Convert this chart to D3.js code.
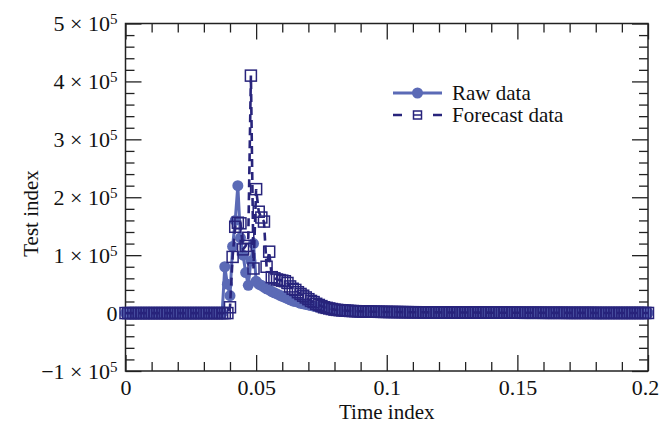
<!DOCTYPE html>
<html>
<head>
<meta charset="utf-8">
<script src="https://cdn.jsdelivr.net/npm/d3@7"></script>
<style>
  body { margin: 0; background: #fff; }
  svg { display: block; font-family: 'Liberation Serif', 'DejaVu Serif', serif; }
</style>
</head>
<body>
<div id="chart"></div>
<script>
// values in units of 1e5, one sample every 0.001 time units
const timeStep = 0.001;

const rawData = [
    0, 0, 0, 0, 0, 0, 0, 0, 0, 0, 0, 0, 0, 0, 0, 0, 0, 0, 0, 0,
    0, 0, 0, 0, 0, 0, 0, 0, 0, 0, 0, 0, 0, 0, 0, 0, 0, 0, 0.8, 0.5,
    0.3, 1.15, 1.6, 2.2, 1.3, 1.0, 0.7, 0.48, 0.9, 1.2, 0.55, 0.5, 0.48, 0.45, 0.42, 0.4, 0.37, 0.35, 0.33, 0.31,
    0.29, 0.27, 0.25, 0.23, 0.21, 0.2, 0.19, 0.17, 0.16, 0.15, 0.14, 0.13, 0.12, 0.11, 0.1, 0.095, 0.09, 0.085, 0.08, 0.075,
    0.07, 0.066, 0.062, 0.058, 0.055, 0.052, 0.05, 0.048, 0.046, 0.044, 0.042, 0.04, 0.038, 0.036, 0.035, 0.034, 0.033, 0.032, 0.031, 0.03,
    0.029, 0.027, 0.027, 0.026, 0.026, 0.025, 0.025, 0.024, 0.024, 0.023, 0.023, 0.022, 0.022, 0.021, 0.021, 0.02, 0.02, 0.02, 0.019, 0.019,
    0.018, 0.018, 0.018, 0.017, 0.017, 0.017, 0.016, 0.016, 0.016, 0.015, 0.015, 0.015, 0.014, 0.014, 0.014, 0.013, 0.013, 0.013, 0.012, 0.012,
    0.012, 0.012, 0.011, 0.011, 0.011, 0.011, 0.01, 0.01, 0.01, 0.01, 0.01, 0.009, 0.009, 0.009, 0.009, 0.009, 0.008, 0.008, 0.008, 0.008,
    0.008, 0.008, 0.007, 0.007, 0.007, 0.007, 0.007, 0.007, 0.006, 0.006, 0.006, 0.006, 0.006, 0.006, 0.006, 0.005, 0.005, 0.005, 0.005, 0.005,
    0.005, 0.005, 0.005, 0.004, 0.004, 0.004, 0.004, 0.004, 0.004, 0.004, 0.004, 0.004, 0.004, 0.004, 0.003, 0.003, 0.003, 0.003, 0.003, 0.003,
    0.003
];

const forecastData = [
    0, 0, 0, 0, 0, 0, 0, 0, 0, 0, 0, 0, 0, 0, 0, 0, 0, 0, 0, 0,
    0, 0, 0, 0, 0, 0, 0, 0, 0, 0, 0, 0, 0, 0, 0, 0, 0, 0, 0, 0,
    0.1, 0.97, 1.49, 1.56, 1.55, 1.1, 1.16, 1.3, 4.1, 0.77, 2.14, 1.75, 1.65, 1.58, 0.8, 1.06, 0.62, 0.6, 0.58, 0.57,
    0.56, 0.55, 0.52, 0.46, 0.42, 0.4, 0.36, 0.33, 0.3, 0.27, 0.24, 0.21, 0.19, 0.16, 0.14, 0.12, 0.1, 0.09, 0.08, 0.07,
    0.06, 0.055, 0.05, 0.046, 0.043, 0.04, 0.037, 0.035, 0.033, 0.031, 0.03, 0.028, 0.027, 0.026, 0.025, 0.024, 0.023, 0.022, 0.021, 0.02,
    0.02, 0.019, 0.019, 0.018, 0.018, 0.017, 0.017, 0.016, 0.016, 0.015, 0.015, 0.015, 0.014, 0.014, 0.014, 0.013, 0.013, 0.013, 0.012, 0.012,
    0.012, 0.011, 0.011, 0.011, 0.011, 0.01, 0.01, 0.01, 0.01, 0.01, 0.009, 0.009, 0.009, 0.009, 0.009, 0.008, 0.008, 0.008, 0.008, 0.008,
    0.007, 0.007, 0.007, 0.007, 0.007, 0.007, 0.006, 0.006, 0.006, 0.006, 0.006, 0.006, 0.005, 0.005, 0.005, 0.005, 0.005, 0.005, 0.005, 0.005,
    0.004, 0.004, 0.004, 0.004, 0.004, 0.004, 0.004, 0.004, 0.004, 0.003, 0.003, 0.003, 0.003, 0.003, 0.003, 0.003, 0.003, 0.003, 0.003, 0.003,
    0.002, 0.002, 0.002, 0.002, 0.002, 0.002, 0.002, 0.002, 0.002, 0.002, 0.002, 0.002, 0.002, 0.002, 0.002, 0.002, 0.002, 0.002, 0.002, 0.002,
    0.002
];

const xTicks = [0, 0.05, 0.1, 0.15, 0.2];
const xMinorTicks = [0.01, 0.02, 0.03, 0.04, 0.06, 0.07, 0.08, 0.09, 0.11, 0.12, 0.13, 0.14, 0.16, 0.17, 0.18, 0.19];
const yTicks = [-1, 0, 1, 2, 3, 4, 5];
const yMinorTicks = [-0.8, -0.6, -0.4, -0.2, 0.2, 0.4, 0.6, 0.8, 1.2, 1.4, 1.6, 1.8, 2.2, 2.4, 2.6, 2.8,
    3.2, 3.4, 3.6, 3.8, 4.2, 4.4, 4.6, 4.8];
const seriesNames = ['Raw data', 'Forecast data'];

const rawColor = '#5b6ab6';
const forecastColor = '#28247c';
const serif = "'Liberation Serif', 'DejaVu Serif', serif";

const margin = { top: 23.5, right: 12, bottom: 61, left: 125.5 };
const totalWidth = 660, totalHeight = 432;
const width = totalWidth - margin.left - margin.right;
const height = totalHeight - margin.top - margin.bottom;

const svg = d3.select('#chart').append('svg')
    .attr('width', totalWidth)
    .attr('height', totalHeight);

svg.append('rect').attr('width', totalWidth).attr('height', totalHeight).attr('fill', '#fff');

const g = svg.append('g')
    .attr('transform', `translate(${margin.left},${margin.top})`);

const xScale = d3.scaleLinear().domain([0, 0.2]).range([0, width]);
const yScale = d3.scaleLinear().domain([-1, 5]).range([height, 0]);

const toPoints = arr => arr.map((v, i) => ({ t: i * timeStep, v }));
const rawPoints = toPoints(rawData);
const forecastPoints = toPoints(forecastData);

// axes: ticks point inwards on all four sides
function drawAxes() {
    const major = 16, minor = 9;

    const bottom = g.append('g').attr('transform', `translate(0,${height})`);
    bottom.call(d3.axisBottom(xScale).tickValues(xTicks).tickSize(-major).tickPadding(8)
        .tickFormat(d => d3.format('')(+d.toFixed(2))));
    bottom.append('g').call(d3.axisBottom(xScale).tickValues(xMinorTicks).tickSize(-minor).tickFormat(''));

    const top = g.append('g');
    top.call(d3.axisTop(xScale).tickValues(xTicks).tickSize(-major).tickFormat(''));
    top.append('g').call(d3.axisTop(xScale).tickValues(xMinorTicks).tickSize(-minor).tickFormat(''));

    const left = g.append('g');
    left.call(d3.axisLeft(yScale).tickValues(yTicks).tickSize(-major).tickFormat(''));
    left.append('g').call(d3.axisLeft(yScale).tickValues(yMinorTicks).tickSize(-minor).tickFormat(''));

    const right = g.append('g').attr('transform', `translate(${width},0)`);
    right.call(d3.axisRight(yScale).tickValues(yTicks).tickSize(-major).tickFormat(''));
    right.append('g').call(d3.axisRight(yScale).tickValues(yMinorTicks).tickSize(-minor).tickFormat(''));

    g.selectAll('.domain').remove();
    g.selectAll('.tick line').attr('stroke', '#222').attr('stroke-width', 1.3);
    bottom.selectAll('.tick text')
        .style('font-family', serif)
        .style('font-size', '22px')
        .attr('fill', '#111')
        .attr('dx', d => d === 0.2 ? -3 : 0); // keep the last label inside the page

    // y labels like "2 × 10^5"
    yTicks.forEach(v => {
        const label = g.append('text')
            .attr('x', -8)
            .attr('y', yScale(v))
            .attr('dy', '0.35em')
            .attr('text-anchor', 'end')
            .style('font-family', serif)
            .style('font-size', '22px')
            .attr('fill', '#111');
        if (v === 0) {
            label.text('0');
        } else {
            label.append('tspan').text(`${v < 0 ? '\u2212' : ''}${Math.abs(v)} \u00d7 10`);
            label.append('tspan').attr('dy', '-0.45em').style('font-size', '15px').text('5');
        }
    });

    g.append('rect')
        .attr('width', width)
        .attr('height', height)
        .attr('fill', 'none')
        .attr('stroke', '#222')
        .attr('stroke-width', 1.5);

    g.append('text')
        .attr('x', width / 2)
        .attr('y', height + 48)
        .attr('text-anchor', 'middle')
        .style('font-family', serif)
        .style('font-size', '21px')
        .attr('fill', '#111')
        .text('Time index');

    g.append('text')
        .attr('transform', 'rotate(-90)')
        .attr('x', -yScale(1.72))
        .attr('y', -88)
        .attr('text-anchor', 'middle')
        .style('font-family', serif)
        .style('font-size', '21px')
        .attr('fill', '#111')
        .text('Test index');
}

function drawSeries() {
    const line = d3.line()
        .x(d => xScale(d.t))
        .y(d => yScale(d.v));

    const plot = g.append('g');

    plot.append('path')
        .datum(rawPoints)
        .attr('fill', 'none')
        .attr('stroke', rawColor)
        .attr('stroke-width', 3)
        .attr('d', line);

    plot.selectAll('circle.raw')
        .data(rawPoints)
        .enter().append('circle')
        .attr('class', 'raw')
        .attr('cx', d => xScale(d.t))
        .attr('cy', d => yScale(d.v))
        .attr('r', 5.5)
        .attr('fill', rawColor);

    plot.append('path')
        .datum(forecastPoints)
        .attr('fill', 'none')
        .attr('stroke', forecastColor)
        .attr('stroke-width', 2.6)
        .attr('stroke-dasharray', '8,5')
        .attr('d', line);

    plot.selectAll('rect.fc')
        .data(forecastPoints)
        .enter().append('rect')
        .attr('class', 'fc')
        .attr('x', d => xScale(d.t) - 5.5)
        .attr('y', d => yScale(d.v) - 5.5)
        .attr('width', 11)
        .attr('height', 11)
        .attr('fill', 'none')
        .attr('stroke', forecastColor)
        .attr('stroke-width', 1.5);
}

function drawLegend() {
    const legend = g.append('g')
        .attr('transform', `translate(${393 - margin.left}, ${93 - margin.top})`);

    const row1 = legend.append('g');
    row1.append('line').attr('x1', 0).attr('x2', 49).attr('y1', 0).attr('y2', 0)
        .attr('stroke', rawColor).attr('stroke-width', 3);
    row1.append('circle').attr('cx', 24.5).attr('cy', 0).attr('r', 5.5).attr('fill', rawColor);
    row1.append('text').attr('x', 59).attr('y', 0).attr('dy', '0.35em')
        .style('font-family', serif)
        .style('font-size', '21px').attr('fill', '#111').text(seriesNames[0]);

    const row2 = legend.append('g').attr('transform', 'translate(0,22)');
    row2.append('line').attr('x1', 0).attr('x2', 49).attr('y1', 0).attr('y2', 0)
        .attr('stroke', forecastColor).attr('stroke-width', 2.6)
        .attr('stroke-dasharray', '9,11,9,11,9');
    row2.append('rect').attr('x', 20.5).attr('y', -4).attr('width', 8).attr('height', 8)
        .attr('fill', '#fff').attr('stroke', forecastColor).attr('stroke-width', 1.5);
    row2.append('line').attr('x1', 20.5).attr('x2', 28.5).attr('y1', 0).attr('y2', 0)
        .attr('stroke', forecastColor).attr('stroke-width', 1.5);
    row2.append('text').attr('x', 59).attr('y', 0).attr('dy', '0.35em')
        .style('font-family', serif)
        .style('font-size', '21px').attr('fill', '#111').text(seriesNames[1]);
}

drawAxes();
drawSeries();
drawLegend();
</script>
</body>
</html>
